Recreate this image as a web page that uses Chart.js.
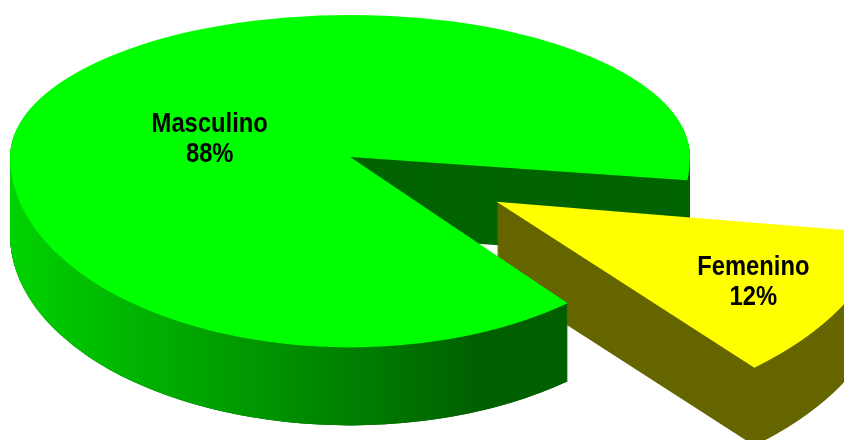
<!DOCTYPE html>
<html>
  <head>
    <script src="https://cdn.jsdelivr.net/npm/chart.js"></script>
    <style>
      body {
        margin: 0;
        padding: 0;
        background: #ffffff;
        overflow: hidden;
      }
      canvas {
        display: block;
      }
    </style>
  </head>
  <body>
    <canvas id="pie3d" width="844" height="440"></canvas>
    <script>
      // data
      const categories = ["Masculino", "Femenino"];
      const percents = [88, 12];
      const topColors = ["#00FF00", "#FFFF00"];
      const wallColors = ["#006400", "#666600"];
      const explode = [0, 668]; // chart.js moves an arc by offset / 4

      // look of the fake 3d
      const rotationDeg = 140.2;
      const pieRadius = 340;
      const depth = 78;
      const kBack = 0.418; // vertical squash of the far half
      const kFront = 0.56; // vertical squash of the near half
      const labelFrac = [0.47, 0.86];
      const labelNudgeY = [12, 0];

      const pie3d = {
        id: "pie3d",
        beforeDatasetsDraw(chart) {
          const ctx = chart.ctx;
          const arcs = chart.getDatasetMeta(0).data;
          const cx = arcs[0].x;
          const cy = arcs[0].y;
          const R = arcs[0].outerRadius;

          // draw with far half / near half squashed differently (poor man's perspective)
          function half(upper, dy, fn) {
            ctx.save();
            ctx.translate(cx, cy + dy);
            ctx.scale(1, upper ? kBack : kFront);
            ctx.translate(-cx, -cy);
            ctx.beginPath();
            if (upper) ctx.rect(-4000, cy - 4000, 8000, 4000);
            else ctx.rect(-4000, cy - 1, 8000, 4000);
            ctx.clip();
            fn();
            ctx.restore();
          }

          function paint(el, color, dy) {
            const saved = el.options;
            el.options = Object.assign({}, saved, { backgroundColor: color, borderWidth: 0 });
            half(true, dy, () => el.draw(ctx));
            half(false, dy, () => el.draw(ctx));
            el.options = saved;
          }

          function walls(el, color) {
            for (let d = depth; d > 0; d--) paint(el, color, d);
          }

          const green = arcs[0];
          const yellow = arcs[1];

          // 1) green walls, dark (only the back cut face stays visible)
          walls(green, wallColors[0]);

          // 2) exploded slice in front of it
          walls(yellow, wallColors[1]);
          paint(yellow, topColors[1], 0);

          // 3) near part of the green walls again, over the slice, shaded
          const a = green.startAngle;
          let dx = R * Math.cos(a);
          let dyv = R * Math.sin(a) * kFront;
          const len = Math.hypot(dx, dyv);
          dx /= len;
          dyv /= len;
          ctx.save();
          ctx.beginPath();
          ctx.moveTo(cx - 3000 * dx, cy - 3000 * dyv);
          ctx.lineTo(cx + 3000 * dx, cy + 3000 * dyv);
          ctx.lineTo(cx + 3000 * dx, cy + 3000 * dyv + 5000);
          ctx.lineTo(cx - 3000 * dx, cy - 3000 * dyv + 5000);
          ctx.closePath();
          ctx.clip();
          const grad = ctx.createLinearGradient(cx - R, 0, cx + 0.38 * R, 0);
          grad.addColorStop(0, "#00D200");
          grad.addColorStop(1, "#006000");
          walls(green, grad);
          ctx.restore();

          // 4) green top face last
          paint(green, topColors[0], 0);

          // labels
          const total = percents.reduce((s, v) => s + v, 0);
          ctx.save();
          ctx.fillStyle = "#000000";
          ctx.font = "bold 27px 'Liberation Sans', Arial, sans-serif";
          ctx.textAlign = "center";
          ctx.textBaseline = "alphabetic";
          arcs.forEach((el, i) => {
            const mid = (el.startAngle + el.endAngle) / 2;
            const shift = (el.options.offset || 0) / 4;
            const r = shift + labelFrac[i] * el.outerRadius;
            const s = Math.sin(mid);
            const x = cx + r * Math.cos(mid);
            const y = cy + r * s * (s < 0 ? kBack : kFront) + labelNudgeY[i];
            ctx.save();
            ctx.translate(x, y);
            ctx.scale(0.88, 1);
            ctx.fillText(categories[i], 0, -5);
            ctx.fillText(Math.round((percents[i] / total) * 100) + "%", 0, 25);
            ctx.restore();
          });
          ctx.restore();

          return false;
        },
      };

      new Chart(document.getElementById("pie3d"), {
        type: "pie",
        data: {
          labels: categories,
          datasets: [
            {
              data: percents,
              backgroundColor: topColors,
              offset: explode,
              borderWidth: 0,
              radius: pieRadius,
            },
          ],
        },
        options: {
          responsive: false,
          animation: false,
          events: [],
          cutout: "0%", // a plain 0 turns into 0/0 when the offset is this large
          radius: pieRadius,
          rotation: rotationDeg,
          layout: { padding: { left: 0, right: 144, top: 0, bottom: 126 } },
          plugins: {
            legend: { display: false },
            tooltip: { enabled: false },
          },
        },
        plugins: [pie3d],
      });
    </script>
  </body>
</html>
